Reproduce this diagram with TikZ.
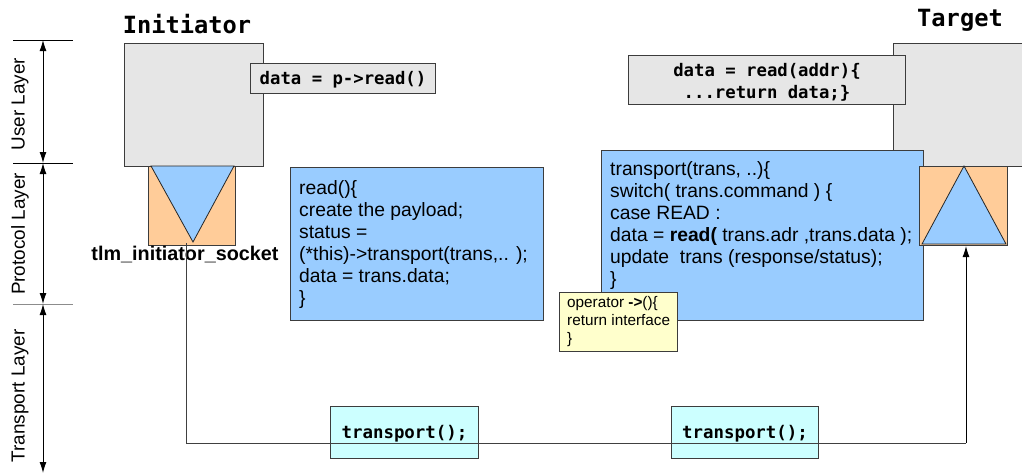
\documentclass[tikz,border=0pt]{standalone}
\usepackage{fontspec}
\setmainfont{Liberation Sans}
\newfontfamily\mono{DejaVu Sans Mono}
\usetikzlibrary{arrows.meta}
\definecolor{boxgray}{HTML}{E6E6E6}
\definecolor{sockorange}{HTML}{FFCC99}
\definecolor{codeblue}{HTML}{99CCFF}
\definecolor{callcyan}{HTML}{CCFFFF}
\definecolor{noteyellow}{HTML}{FFFFCC}
\definecolor{edge}{HTML}{3C3C3C}
\tikzset{
  module/.style={draw=edge, fill=boxgray, line width=1pt},
  codebox/.style={draw=edge, fill=boxgray, line width=1pt},
  socketbox/.style={draw=edge, fill=sockorange, line width=1pt},
  wedge/.style={draw=black!85, fill=codeblue, line width=0.8pt},
  bluebox/.style={draw=edge, fill=codeblue, line width=1pt},
  notebox/.style={draw=edge, fill=noteyellow, line width=1pt},
  callbox/.style={draw=edge, fill=callcyan, line width=1pt},
  sans/.style={font=\fontsize{19.3}{22}\selectfont, align=left, inner sep=0pt, anchor=north west},
  codetxt/.style={font=\mono\bfseries\fontsize{17.3}{22}\selectfont, inner sep=0pt},
  title/.style={font=\mono\bfseries\fontsize{23.7}{26}\selectfont, inner sep=0pt},
  layer/.style={font=\fontsize{18.9}{20}\selectfont, rotate=90, inner sep=0pt},
  tick/.style={line width=1pt},
  span/.style={line width=1pt, {Latex[length=11pt,width=7pt]}-{Latex[length=11pt,width=7pt]}},
  wire/.style={draw=black!75, line width=1pt},
}
\begin{document}
\begin{tikzpicture}[x=1pt,y=-1pt]
\useasboundingbox (0,0) rectangle (1022,475);

% ---- layer scale on the left ----
\coordinate (l0) at (43,40);
\coordinate (l1) at (43,163);
\coordinate (l2) at (43,304);
\coordinate (l3) at (43,473);
\draw[tick] (13,40) -- (73,40);
\draw[tick] (13,163) -- (73,163);
\draw[tick, draw=black!45] (13,304) -- (73,304);
\draw[span] (l0) -- (l1);
\draw[span] (l1) -- (l2);
\draw[span] (l2) -- (l3);
\node[layer] (userl) at (20,104) {User Layer};
\node[layer] (protl) at (20,234) {Protocol Layer};
\node[layer] (transl) at (20,396) {Transport Layer};

% ---- initiator ----
\node[title] (ititle) at (187,24) {Initiator};
\draw[module] (124,43) rectangle (263,166);
\node[codebox, minimum width=185pt, minimum height=30pt, anchor=north west, inner sep=0pt] (iread) at (250,63) {};
\node[codetxt] at ([yshift=-1.5pt]iread.center) {data = p->read()};
\draw[socketbox] (148,166) rectangle (235,245);
\draw[wedge] (151,166) -- (234,166) -- (193,242) -- cycle;
\coordinate (isock) at (186,243);
\node[font=\bfseries\fontsize{19.8}{22}\selectfont, inner sep=0pt] (isocklbl) at (185,255) {tlm\_initiator\_socket};

% ---- initiator protocol code ----
\node[bluebox, minimum width=253pt, minimum height=153pt, anchor=north west, inner sep=0pt] (icode) at (290,167) {};
\node[sans] (icodetxt) at (299,180) {read()\{\\create the payload;\\status =\\(*this)->transport(trans,.. );\\data = trans.data;\\\}};

% ---- target ----
\node[title] (ttitle) at (960,20) {Target};
\draw[module] (893,43) rectangle (1023,166);
\node[codebox, minimum width=277pt, minimum height=49pt, anchor=north west, inner sep=0pt] (tread) at (628,55) {};
\node[codetxt, align=center] at ([yshift=-2pt]tread.center) {data = read(addr)\{\\...return data;\}};

% ---- target protocol code ----
\node[bluebox, minimum width=322pt, minimum height=170pt, anchor=north west, inner sep=0pt] (tcode) at (601,150) {};
\node[sans] (tcodetxt) at (610,161) {transport(trans, ..)\{\\switch( trans.command ) \{\\case READ :\\data = \textbf{read(} trans.adr ,trans.data );\\update\ \ trans (response/status);\\\}};
\draw[socketbox] (919,166) rectangle (1007,245);
\draw[wedge] (922,244) -- (964,166) -- (1006,244) -- cycle;
\coordinate (tsock) at (966,246);

% ---- operator note ----
\node[notebox, minimum width=118pt, minimum height=59pt, anchor=north west, inner sep=0pt] (note) at (559,292) {};
\node[sans, font=\fontsize{15.3}{18}\selectfont] (notetxt) at (567,296) {operator \textbf{->}()\{\\return interface\\\}};

% ---- transport channel ----
\node[callbox, minimum width=148pt, minimum height=52pt, anchor=north west, inner sep=0pt] (call1) at (330,406) {};
\node[callbox, minimum width=147pt, minimum height=52pt, anchor=north west, inner sep=0pt] (call2) at (671,406) {};
\node[codetxt, font=\mono\bfseries\fontsize{17.4}{20}\selectfont] at ([yshift=-1pt]call1.center) {transport();};
\node[codetxt, font=\mono\bfseries\fontsize{17.4}{20}\selectfont] at ([yshift=-1pt]call2.center) {transport();};
\draw[wire] (isock) -- (186,443) -- (966,443);
\draw[line width=1pt, -{Latex[length=11pt,width=7pt]}] (966,443) -- (tsock);
\end{tikzpicture}
\end{document}
